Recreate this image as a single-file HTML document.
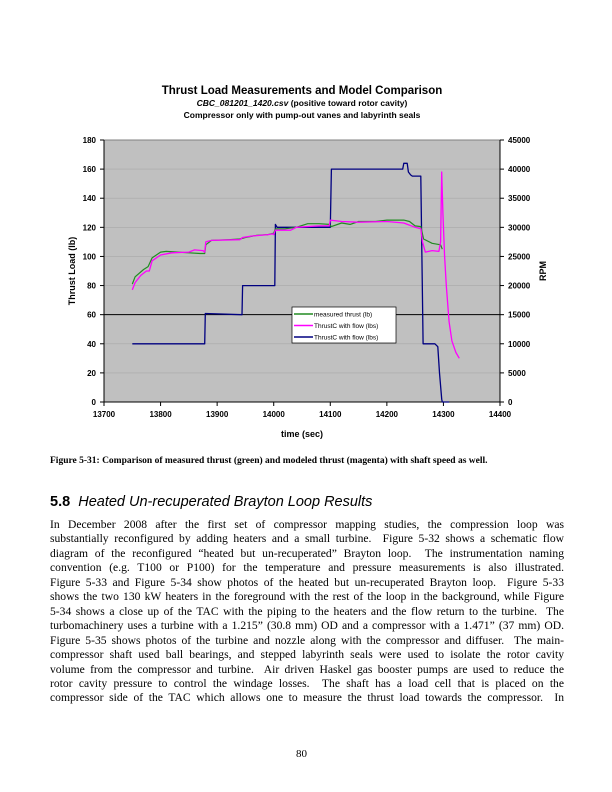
<!DOCTYPE html>
<html><head><meta charset="utf-8"><style>
body{margin:0;background:#fff;width:612px;height:792px;position:relative;font-family:"Liberation Serif",serif;}
.t{position:absolute;margin:0}
.body{position:absolute;left:50px;width:514px;top:518px;font-size:11.6px;line-height:14.45px;color:#000}
.body div{text-align:justify;text-align-last:justify;white-space:nowrap;overflow:visible}
.body div.last{text-align-last:left}
</style></head><body>
<svg width="612" height="460" style="position:absolute;left:0;top:0" font-family="Liberation Sans, sans-serif">
<text x="302" y="94" text-anchor="middle" font-size="11.5" font-weight="bold">Thrust Load Measurements and Model Comparison</text>
<text x="302" y="106" text-anchor="middle" font-size="8.5" font-weight="bold"><tspan font-style="italic">CBC_081201_1420.csv</tspan> (positive toward rotor cavity)</text>
<text x="302" y="118" text-anchor="middle" font-size="8.5" font-weight="bold">Compressor only with pump-out vanes and labyrinth seals</text>
<g id="plot"></g>
</svg>
<div class="t" style="left:50px;top:456px;font-size:9.5px;font-weight:bold">Figure 5-31: Comparison of measured thrust (green) and modeled thrust (magenta) with shaft speed as well.</div>
<div class="t" style="left:50px;top:494px;font-size:14.5px;font-family:'Liberation Sans',sans-serif"><b>5.8</b>&nbsp;&nbsp;<i>Heated Un-recuperated Brayton Loop Results</i></div>
<div class="body">
<div>In December 2008 after the first set of compressor mapping studies, the compression loop was</div>
<div>substantially reconfigured by adding heaters and a small turbine.&nbsp; Figure 5-32 shows a schematic flow</div>
<div>diagram of the reconfigured “heated but un-recuperated” Brayton loop.&nbsp; The instrumentation naming</div>
<div>convention (e.g. T100 or P100) for the temperature and pressure measurements is also illustrated.</div>
<div>Figure 5-33 and Figure 5-34 show photos of the heated but un-recuperated Brayton loop.&nbsp; Figure 5-33</div>
<div>shows the two 130 kW heaters in the foreground with the rest of the loop in the background, while Figure</div>
<div>5-34 shows a close up of the TAC with the piping to the heaters and the flow return to the turbine.&nbsp; The</div>
<div>turbomachinery uses a turbine with a 1.215” (30.8 mm) OD and a compressor with a 1.471” (37 mm) OD.</div>
<div>Figure 5-35 shows photos of the turbine and nozzle along with the compressor and diffuser.&nbsp; The main-</div>
<div>compressor shaft used ball bearings, and stepped labyrinth seals were used to isolate the rotor cavity</div>
<div>volume from the compressor and turbine.&nbsp; Air driven Haskel gas booster pumps are used to reduce the</div>
<div>rotor cavity pressure to control the windage losses.&nbsp; The shaft has a load cell that is placed on the</div>
<div>compressor side of the TAC which allows one to measure the thrust load towards the compressor.&nbsp; In</div>
</div>
<div class="t" style="left:296px;top:748px;font-size:11px">80</div>
<script>
const xTicks=[13700,13800,13900,14000,14100,14200,14300,14400];
const yTicks=[0,20,40,60,80,100,120,140,160,180];
const y2Ticks=[0,5000,10000,15000,20000,25000,30000,35000,40000,45000];
const measTime=[13750,13755,13770,13778,13785,13800,13810,13830,13850,13870,13878,13880,13890,13920,13940,13950,13970,13990,14000,14003,14020,14040,14060,14080,14098,14102,14120,14135,14150,14180,14200,14230,14240,14250,14260,14265,14280,14295,14298];
const measThrust=[81,86,91,93,99,103,103.5,103,102.5,102,102,108,111,111.5,112,113,114.5,115,116,119,119,120,122.5,122.5,122,120.5,123,122,124,124,125,125,124,121,120.5,112,109,108,105];
const modelTime=[13750,13755,13765,13775,13780,13785,13800,13820,13850,13860,13875,13878,13880,13890,13940,13945,13960,13990,13998,14000,14003,14030,14040,14080,14098,14100,14120,14150,14200,14230,14250,14260,14263,14268,14280,14292,14295,14297,14299,14302,14305,14310,14315,14322,14328];
const modelThrust=[77,82,87,90,90,97,101,102.5,103,104.5,104,103,110,111,111.5,113,114,115,115.5,115,118,118,120,121,121,125,124,123.5,124,123,120,119,110,103,104,103.5,110,158,130,100,80,55,42,34,30];
const rpmTime=[13750,13878,13879,13944,13945,14002,14003,14006,14100,14102,14228,14230,14236,14238,14242,14245,14260,14264,14285,14290,14293,14297,14298,14310];
const rpmValues=[10000,10000,15200,15000,20000,20000,30500,30000,30000,40000,40000,41000,41000,39500,39000,38800,38800,10000,10000,9500,5000,500,0,0];
const L=104,R=500,T=140,B=402,NS="http://www.w3.org/2000/svg";
const sx=v=>L+(v-13700)/700*(R-L), sy=v=>B-v/180*(B-T), sy2=v=>B-v/45000*(B-T);
const g=document.getElementById('plot');
function mk(tag,a,parent){const e=document.createElementNS(NS,tag);for(const k in a)e.setAttribute(k,a[k]);(parent||g).appendChild(e);return e;}
const bg=mk('rect',{x:L,y:T,width:R-L,height:B-T,fill:'#c0c0c0',stroke:'#808080'});


yTicks.forEach(v=>{
 const y=sy(v);
 if(v>0&&v<180){const gl=mk('line',{x1:L,x2:R,y1:y,y2:y,stroke:v===60?'#000':'#a8a8a8','stroke-width':v===60?1:0.6});
 
 }
 mk('line',{x1:L-4,x2:L,y1:y,y2:y,stroke:'#000'});
 const t=mk('text',{x:L-8,y:y+3,'text-anchor':'end','font-size':8,'font-weight':'bold'});t.textContent=v;
 
 
});
y2Ticks.forEach(v=>{const y=sy2(v);mk('line',{x1:R,x2:R+4,y1:y,y2:y,stroke:'#000'});
 const t=mk('text',{x:R+8,y:y+3,'font-size':8,'font-weight':'bold'});t.textContent=v;
 
 });
xTicks.forEach(v=>{const x=sx(v);mk('line',{x1:x,x2:x,y1:B,y2:B+4,stroke:'#000'});
 const t=mk('text',{x:x,y:B+15,'text-anchor':'middle','font-size':8,'font-weight':'bold'});t.textContent=v;
 
 });
mk('line',{x1:L,x2:R,y1:B,y2:B,stroke:'#000'});mk('line',{x1:L,x2:L,y1:T,y2:B,stroke:'#000'});mk('line',{x1:R,x2:R,y1:T,y2:B,stroke:'#000'});
let t=mk('text',{x:302,y:437,'text-anchor':'middle','font-size':9,'font-weight':'bold'});t.textContent='time (sec)';


t=mk('text',{x:0,y:0,'text-anchor':'middle','font-size':9,'font-weight':'bold',transform:'translate(75,271) rotate(-90)'});t.textContent='Thrust Load (lb)';


t=mk('text',{x:0,y:0,'text-anchor':'middle','font-size':9,'font-weight':'bold',transform:'translate(546,271) rotate(-90)'});t.textContent='RPM';


function line(xs,ys,f,color,w,name){const pts=xs.map((x,i)=>sx(x).toFixed(1)+','+f(ys[i]).toFixed(1)).join(' ');
 const p=mk('polyline',{points:pts,fill:'none',stroke:color,'stroke-width':w,'stroke-linejoin':'round'});
 
 }
line(rpmTime,rpmValues,sy2,'#000080',1.3,'rpm-line');
line(measTime,measThrust,sy,'#228B22',1.2,'measured-thrust-line');
line(modelTime,modelThrust,sy,'#ff00ff',1.3,'model-thrust-line');
const lg=mk('g',{});


mk('rect',{x:292,y:307,width:104,height:36,fill:'#fff',stroke:'#000','stroke-width':0.7},lg);
[['measured thrust (lb)','#228B22'],['ThrustC with flow (lbs)','#ff00ff'],['ThrustC with flow (lbs)','#000080']].forEach((d,i)=>{
 const y=314+i*11.5;mk('line',{x1:294,x2:313,y1:y,y2:y,stroke:d[1],'stroke-width':1.5},lg);
 const tt=mk('text',{x:314,y:y+2.5,'font-size':6.5},lg);tt.textContent=d[0];
 
 });
</script>
</body></html>
